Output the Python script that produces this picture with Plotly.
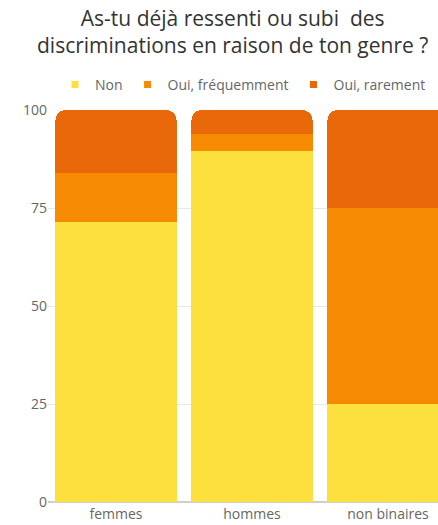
import plotly.graph_objects as go

# Survey answers by gender (percent of respondents)
categories = ["femmes", "hommes", "non binaires"]
non = [71.4, 89.6, 25.0]
oui_frequemment = [12.5, 4.3, 50.0]
oui_rarement = [16.1, 6.1, 25.0]
y_ticks = [0, 25, 50, 75, 100]

title_text = "As-tu déjà ressenti ou subi  des<br>discriminations en raison de ton genre ?"

series = [
    ("Non", non, "#FCE03E"),
    ("Oui, fréquemment", oui_frequemment, "#F68A02"),
    ("Oui, rarement", oui_rarement, "#E9680A"),
]

fig = go.Figure()
for name, values, color in series:
    fig.add_trace(go.Bar(
        x=categories, y=values, name=name,
        marker=dict(color=color, line=dict(width=0)),
        hoverinfo="x+y+name",
        legendgroup=name, showlegend=False,
    ))

# Legend entries with small square swatches
for name, _, color in series:
    fig.add_trace(go.Scatter(
        x=[None], y=[None], mode="markers", name=name,
        marker=dict(symbol="square", size=7, color=color),
        legendgroup=name, showlegend=True, hoverinfo="skip",
    ))

# Two-line heading placed above the legend
fig.add_annotation(
    text=title_text, showarrow=False,
    xref="paper", yref="paper", x=0.472, y=1.199,
    xanchor="center", yanchor="middle", align="center",
    font=dict(family="Open Sans", size=21, color="#333333"),
)

fig.update_layout(
    width=438, height=525,
    barmode="stack",
    bargap=0.11,
    barcornerradius=10,
    paper_bgcolor="white",
    plot_bgcolor="white",
    margin=dict(l=48, r=0, t=110, b=23, autoexpand=False),
    legend=dict(
        orientation="h", x=0.5, xanchor="center", xref="paper",
        y=1.064, yanchor="middle", yref="paper",
        font=dict(family="Open Sans", size=14, color="#666666"),
        traceorder="normal",
        itemwidth=30,
        itemclick=False,
    ),
    font=dict(family="Open Sans", size=14, color="#666666"),
    showlegend=True,
)

fig.update_xaxes(
    range=[-0.5, -0.5 + 390 / 136],
    showgrid=False, showline=False, zeroline=False,
    ticks="", ticklabelstandoff=2, automargin=False,
    tickfont=dict(size=14, color="#666666"),
)
fig.update_yaxes(
    range=[0, 100], tickvals=y_ticks,
    showgrid=True, gridcolor="#E8E8E8", gridwidth=1,
    zeroline=True, zerolinecolor="#CFCFCF", zerolinewidth=1.5,
    showline=False, ticks="", automargin=False,
    tickfont=dict(size=14, color="#666666"),
)

fig.write_html("out.html")
